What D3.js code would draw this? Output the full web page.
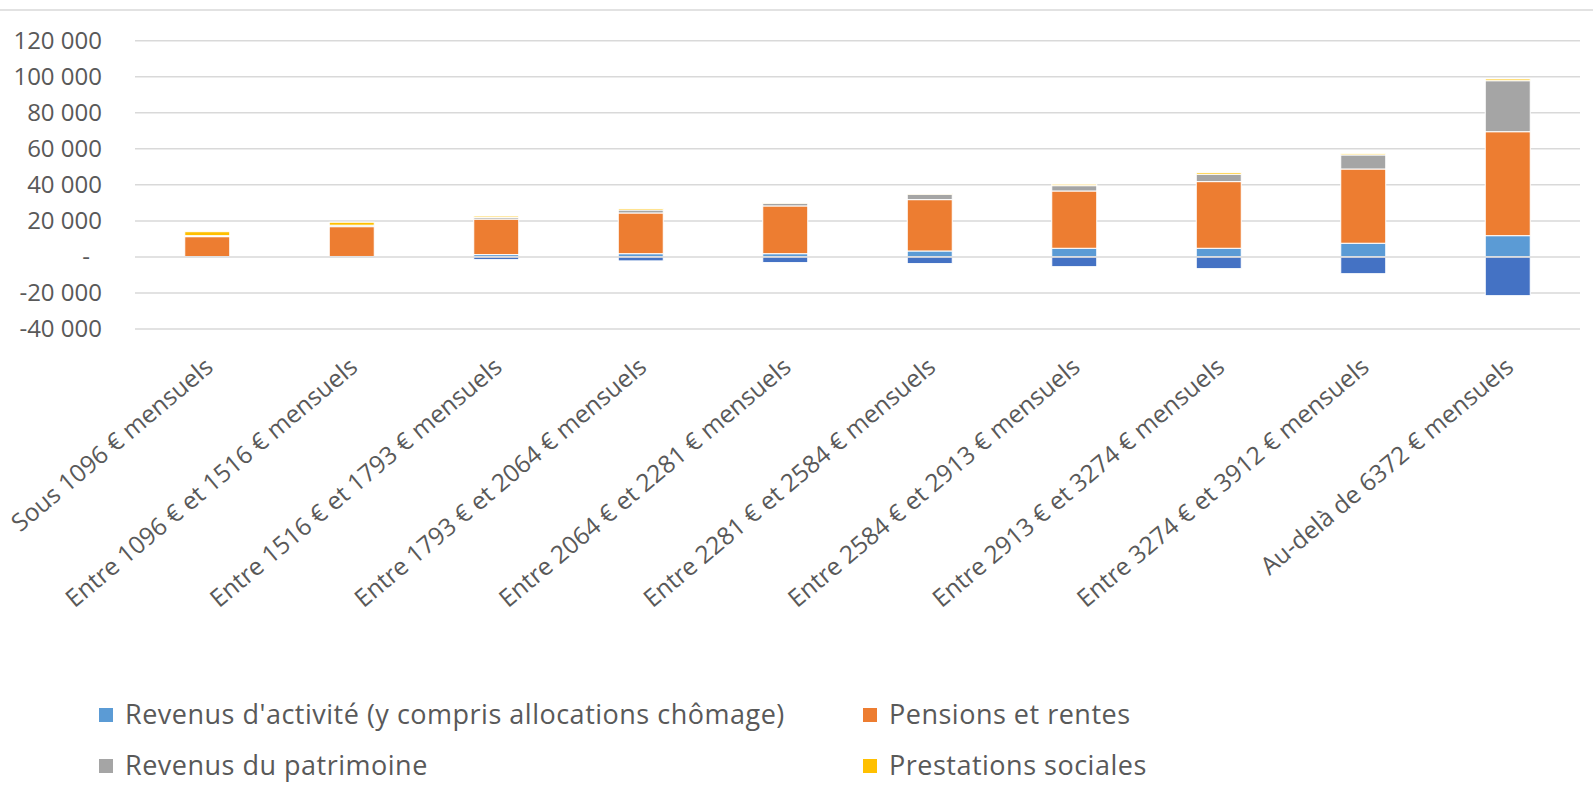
<!DOCTYPE html>
<html>
<head>
<meta charset="utf-8">
<script src="https://cdn.jsdelivr.net/npm/d3@7"></script>
<style>
  body { margin: 0; background: #fff; }
  text { font-family: "Open Sans", sans-serif; fill: #595959; }
</style>
</head>
<body>
<div id="chart"></div>
<script>
// categories (tranches de niveau de vie)
var tranches = ['Sous 1096 € mensuels', 'Entre 1096 € et 1516 € mensuels', 'Entre 1516 € et 1793 € mensuels',
  'Entre 1793 € et 2064 € mensuels', 'Entre 2064 € et 2281 € mensuels', 'Entre 2281 € et 2584 € mensuels',
  'Entre 2584 € et 2913 € mensuels', 'Entre 2913 € et 3274 € mensuels', 'Entre 3274 € et 3912 € mensuels',
  'Au-delà de 6372 € mensuels'];

// series values
var activite    = [150, 250, 1300, 1800, 1800, 3300, 4800, 4800, 7600, 11800];
var pensions    = [11100, 16550, 19700, 22600, 26500, 28500, 31800, 37000, 41200, 57700];
var patrimoine  = [550, 800, 950, 1650, 1500, 3000, 2950, 4100, 7800, 28300];
var prestations = [2200, 1650, 750, 800, 550, 550, 800, 900, 700, 950];
var impots      = [-100, -200, -1500, -2200, -3150, -3700, -5400, -6500, -9300, -21500];

var yTicks = [-40000, -20000, 0, 20000, 40000, 60000, 80000, 100000, 120000];

var keys = ['activite', 'pensions', 'patrimoine', 'prestations', 'impots'];
var colors = {activite: '#5b9bd5', pensions: '#ed7d31', patrimoine: '#a5a5a5', prestations: '#ffc000', impots: '#4472c4'};
var legendItems = [
  {key: 'activite', label: "Revenus d'activité (y compris allocations chômage)"},
  {key: 'pensions', label: 'Pensions et rentes'},
  {key: 'patrimoine', label: 'Revenus du patrimoine'},
  {key: 'prestations', label: 'Prestations sociales'}
];

var data = tranches.map(function(t, i) {
  return {tranche: t, activite: activite[i], pensions: pensions[i], patrimoine: patrimoine[i],
          prestations: prestations[i], impots: impots[i]};
});

var W = 1593, H = 803;
var plot = {left: 135, right: 1580, top: 40.7, bottom: 329};

var svg = d3.select('#chart').append('svg')
  .attr('width', W)
  .attr('height', H);

// frame line at the top
svg.append('line')
  .attr('x1', 0).attr('x2', W).attr('y1', 10).attr('y2', 10)
  .attr('stroke', '#d9d9d9').attr('stroke-width', 1.5);

var x = d3.scaleBand()
  .domain(tranches)
  .range([plot.left, plot.right])
  .paddingInner(0.6886)
  .paddingOuter(0.3443);

var y = d3.scaleLinear()
  .domain([-40000, 120000])
  .range([plot.bottom, plot.top]);

var loc = d3.formatLocale({decimal: ',', thousands: ' ', grouping: [3], currency: ['', '€']});
var fmt = loc.format(',d');

// gridlines
svg.append('g').selectAll('line')
  .data(yTicks.filter(function(d) { return d !== 0; }))
  .enter().append('line')
  .attr('x1', plot.left).attr('x2', plot.right)
  .attr('y1', function(d) { return y(d); })
  .attr('y2', function(d) { return y(d); })
  .attr('stroke', '#d9d9d9').attr('stroke-width', 1.5);

// y axis labels
var yAxis = svg.append('g')
  .attr('transform', 'translate(' + plot.left + ',0)')
  .call(d3.axisLeft(y).tickValues(yTicks).tickSize(0).tickPadding(33)
    .tickFormat(function(d) { return d === 0 ? '-' : fmt(d).replace('−', '-'); }));
yAxis.select('.domain').remove();
yAxis.selectAll('text')
  .attr('font-size', 24)
  .attr('font-family', '"Open Sans", sans-serif')
  .style('fill', '#595959')
  .attr('dx', function(d) { return d === 0 ? -12 : 0; });

// stacked bars
var series = d3.stack().keys(keys).offset(d3.stackOffsetDiverging)(data);

svg.append('g').selectAll('g')
  .data(series)
  .enter().append('g')
  .attr('fill', function(s) { return colors[s.key]; })
  .selectAll('rect')
  .data(function(s) { return s; })
  .enter().append('rect')
  .attr('x', function(d) { return x(d.data.tranche); })
  .attr('width', x.bandwidth())
  .attr('y', function(d) { return y(Math.max(d[0], d[1])); })
  .attr('height', function(d) { return Math.abs(y(d[0]) - y(d[1])); })
  .attr('stroke', '#fff')
  .attr('stroke-width', 1);

// zero line drawn over the bars
svg.append('line')
  .attr('x1', plot.left).attr('x2', plot.right)
  .attr('y1', y(0)).attr('y2', y(0))
  .attr('stroke', '#d9d9d9').attr('stroke-width', 1.5);

// category labels
var xAxis = svg.append('g')
  .attr('transform', 'translate(0,' + plot.bottom + ')')
  .call(d3.axisBottom(x).tickSize(0).tickPadding(0));
xAxis.select('.domain').remove();
xAxis.selectAll('text')
  .attr('font-size', 24.5)
  .attr('font-family', '"Open Sans", sans-serif')
  .style('fill', '#595959')
  .attr('text-anchor', 'end')
  .attr('y', 0)
  .attr('dy', '0.35em')
  .attr('transform', 'translate(2,34) rotate(-40)');

// legend
var legend = svg.append('g').selectAll('g')
  .data(legendItems)
  .enter().append('g')
  .attr('transform', function(d, i) {
    return 'translate(' + (i % 2 === 0 ? 99 : 863) + ',' + (708 + Math.floor(i / 2) * 51) + ')';
  });
legend.append('rect')
  .attr('width', 14).attr('height', 14)
  .attr('fill', function(d) { return colors[d.key]; });
legend.append('text')
  .attr('x', 26).attr('y', 16)
  .attr('font-size', 27)
  .attr('letter-spacing', 0.5)
  .text(function(d) { return d.label; });
</script>
</body>
</html>
